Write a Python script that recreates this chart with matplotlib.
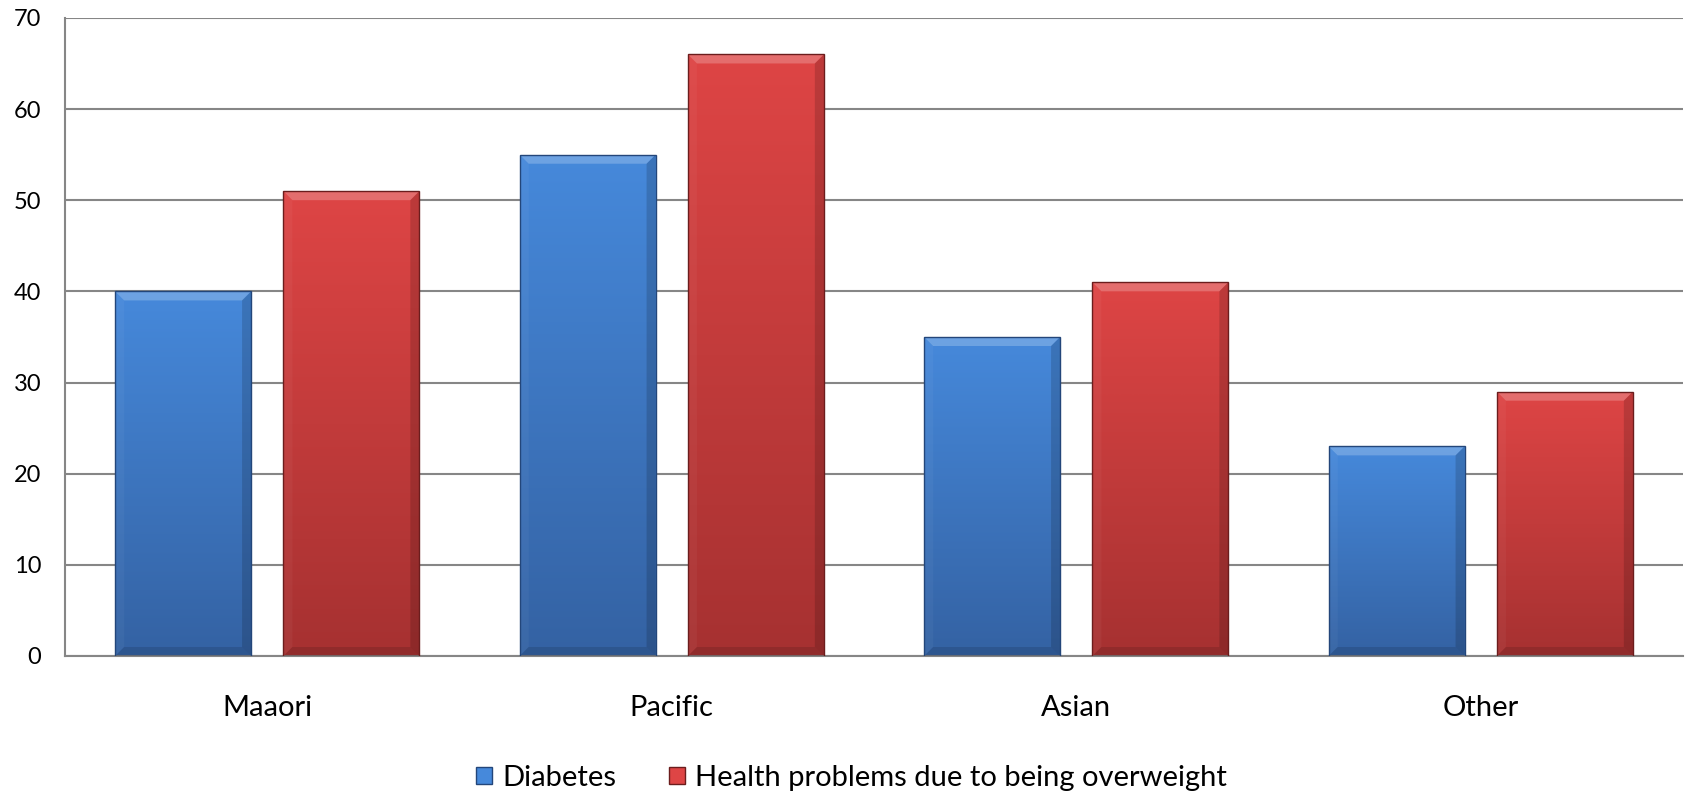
import numpy as np
import matplotlib
matplotlib.use("Agg")
import matplotlib.pyplot as plt
from matplotlib.patches import Polygon, Rectangle
from matplotlib.colors import LinearSegmentedColormap

plt.rcParams["font.family"] = ["Lato", "DejaVu Sans"]

groups = ["Maaori", "Pacific", "Asian", "Other"]
diabetes = [40, 55, 35, 23]
overweight = [51, 66, 41, 29]
series_names = ["Diabetes", "Health problems due to being overweight"]

# (top colour, bottom colour, edge colour)
blue = ("#4689DB", "#3462A3", "#23467A")
red = ("#DE4545", "#A63131", "#6B1D1D")

W, H = 1686, 795
fig = plt.figure(figsize=(W / 100, H / 100), dpi=100)
ax = fig.add_axes([65 / W, 1 - 656 / H, (1683 - 65) / W, (656 - 18) / H])
ax.set_xlim(-0.5, 3.5)
ax.set_ylim(0, 70)
ax.set_yticks(range(0, 71, 10))
ax.yaxis.grid(True, color="#868686", linewidth=1.5, zorder=0)
ax.set_axisbelow(True)
for side in ("top", "right"):
    ax.spines[side].set_visible(False)
for side in ("left", "bottom"):
    ax.spines[side].set_color("#868686")
    ax.spines[side].set_linewidth(1.5)
ax.tick_params(length=0, colors="black")
ax.tick_params(axis="y", labelsize=17, pad=17)
ax.tick_params(axis="x", labelsize=21, pad=28)
ax.set_xticks(range(len(groups)))
ax.set_xticklabels(groups)

# pixel -> data scale for the bevel
px_x = 4.0 / (1683 - 65)
px_y = 70.0 / (656 - 18)
bev_x, bev_y = 9 * px_x, 9 * px_y


def bevel_bar(x0, width, height, colors):
    top, bottom, edge = colors
    cmap = LinearSegmentedColormap.from_list("g", [bottom, top])
    grad = np.linspace(0, 1, 256).reshape(-1, 1)
    x1 = x0 + width
    img = ax.imshow(grad, cmap=cmap, origin="lower", aspect="auto",
                    extent=(x0, x1, 0, height), zorder=2)
    rect = Rectangle((x0, 0), width, height, transform=ax.transData)
    img.set_clip_path(rect)
    # bevel faces
    faces = [
        ([(x0, height), (x1, height), (x1 - bev_x, height - bev_y), (x0 + bev_x, height - bev_y)], "white", 0.22),
        ([(x0, 0), (x0 + bev_x, bev_y), (x0 + bev_x, height - bev_y), (x0, height)], "white", 0.04),
        ([(x1, 0), (x1, height), (x1 - bev_x, height - bev_y), (x1 - bev_x, bev_y)], "black", 0.15),
        ([(x0, 0), (x1, 0), (x1 - bev_x, bev_y), (x0 + bev_x, bev_y)], "black", 0.12),
    ]
    for pts, c, a in faces:
        ax.add_patch(Polygon(pts, closed=True, facecolor=c, alpha=a,
                             edgecolor="none", zorder=3))
    ax.add_patch(Rectangle((x0, 0), width, height, facecolor="none",
                           edgecolor=edge, linewidth=1.0, zorder=4))


bar_w = 0.336
offset = 0.208
for i in range(len(groups)):
    bevel_bar(i - offset - bar_w / 2, bar_w, diabetes[i], blue)
    bevel_bar(i + offset - bar_w / 2, bar_w, overweight[i], red)

handles = [Rectangle((0, 0), 1, 1, facecolor=blue[0], edgecolor=blue[2]),
           Rectangle((0, 0), 1, 1, facecolor=red[0], edgecolor=red[2])]
fig.legend(handles, series_names, loc="center", bbox_to_anchor=(0.505, 1 - 778 / H),
           ncol=2, frameon=False, fontsize=21, handlelength=0.55, handleheight=0.55,
           handletextpad=0.35, columnspacing=1.8)

fig.savefig("out.png", dpi=100, facecolor="white")
